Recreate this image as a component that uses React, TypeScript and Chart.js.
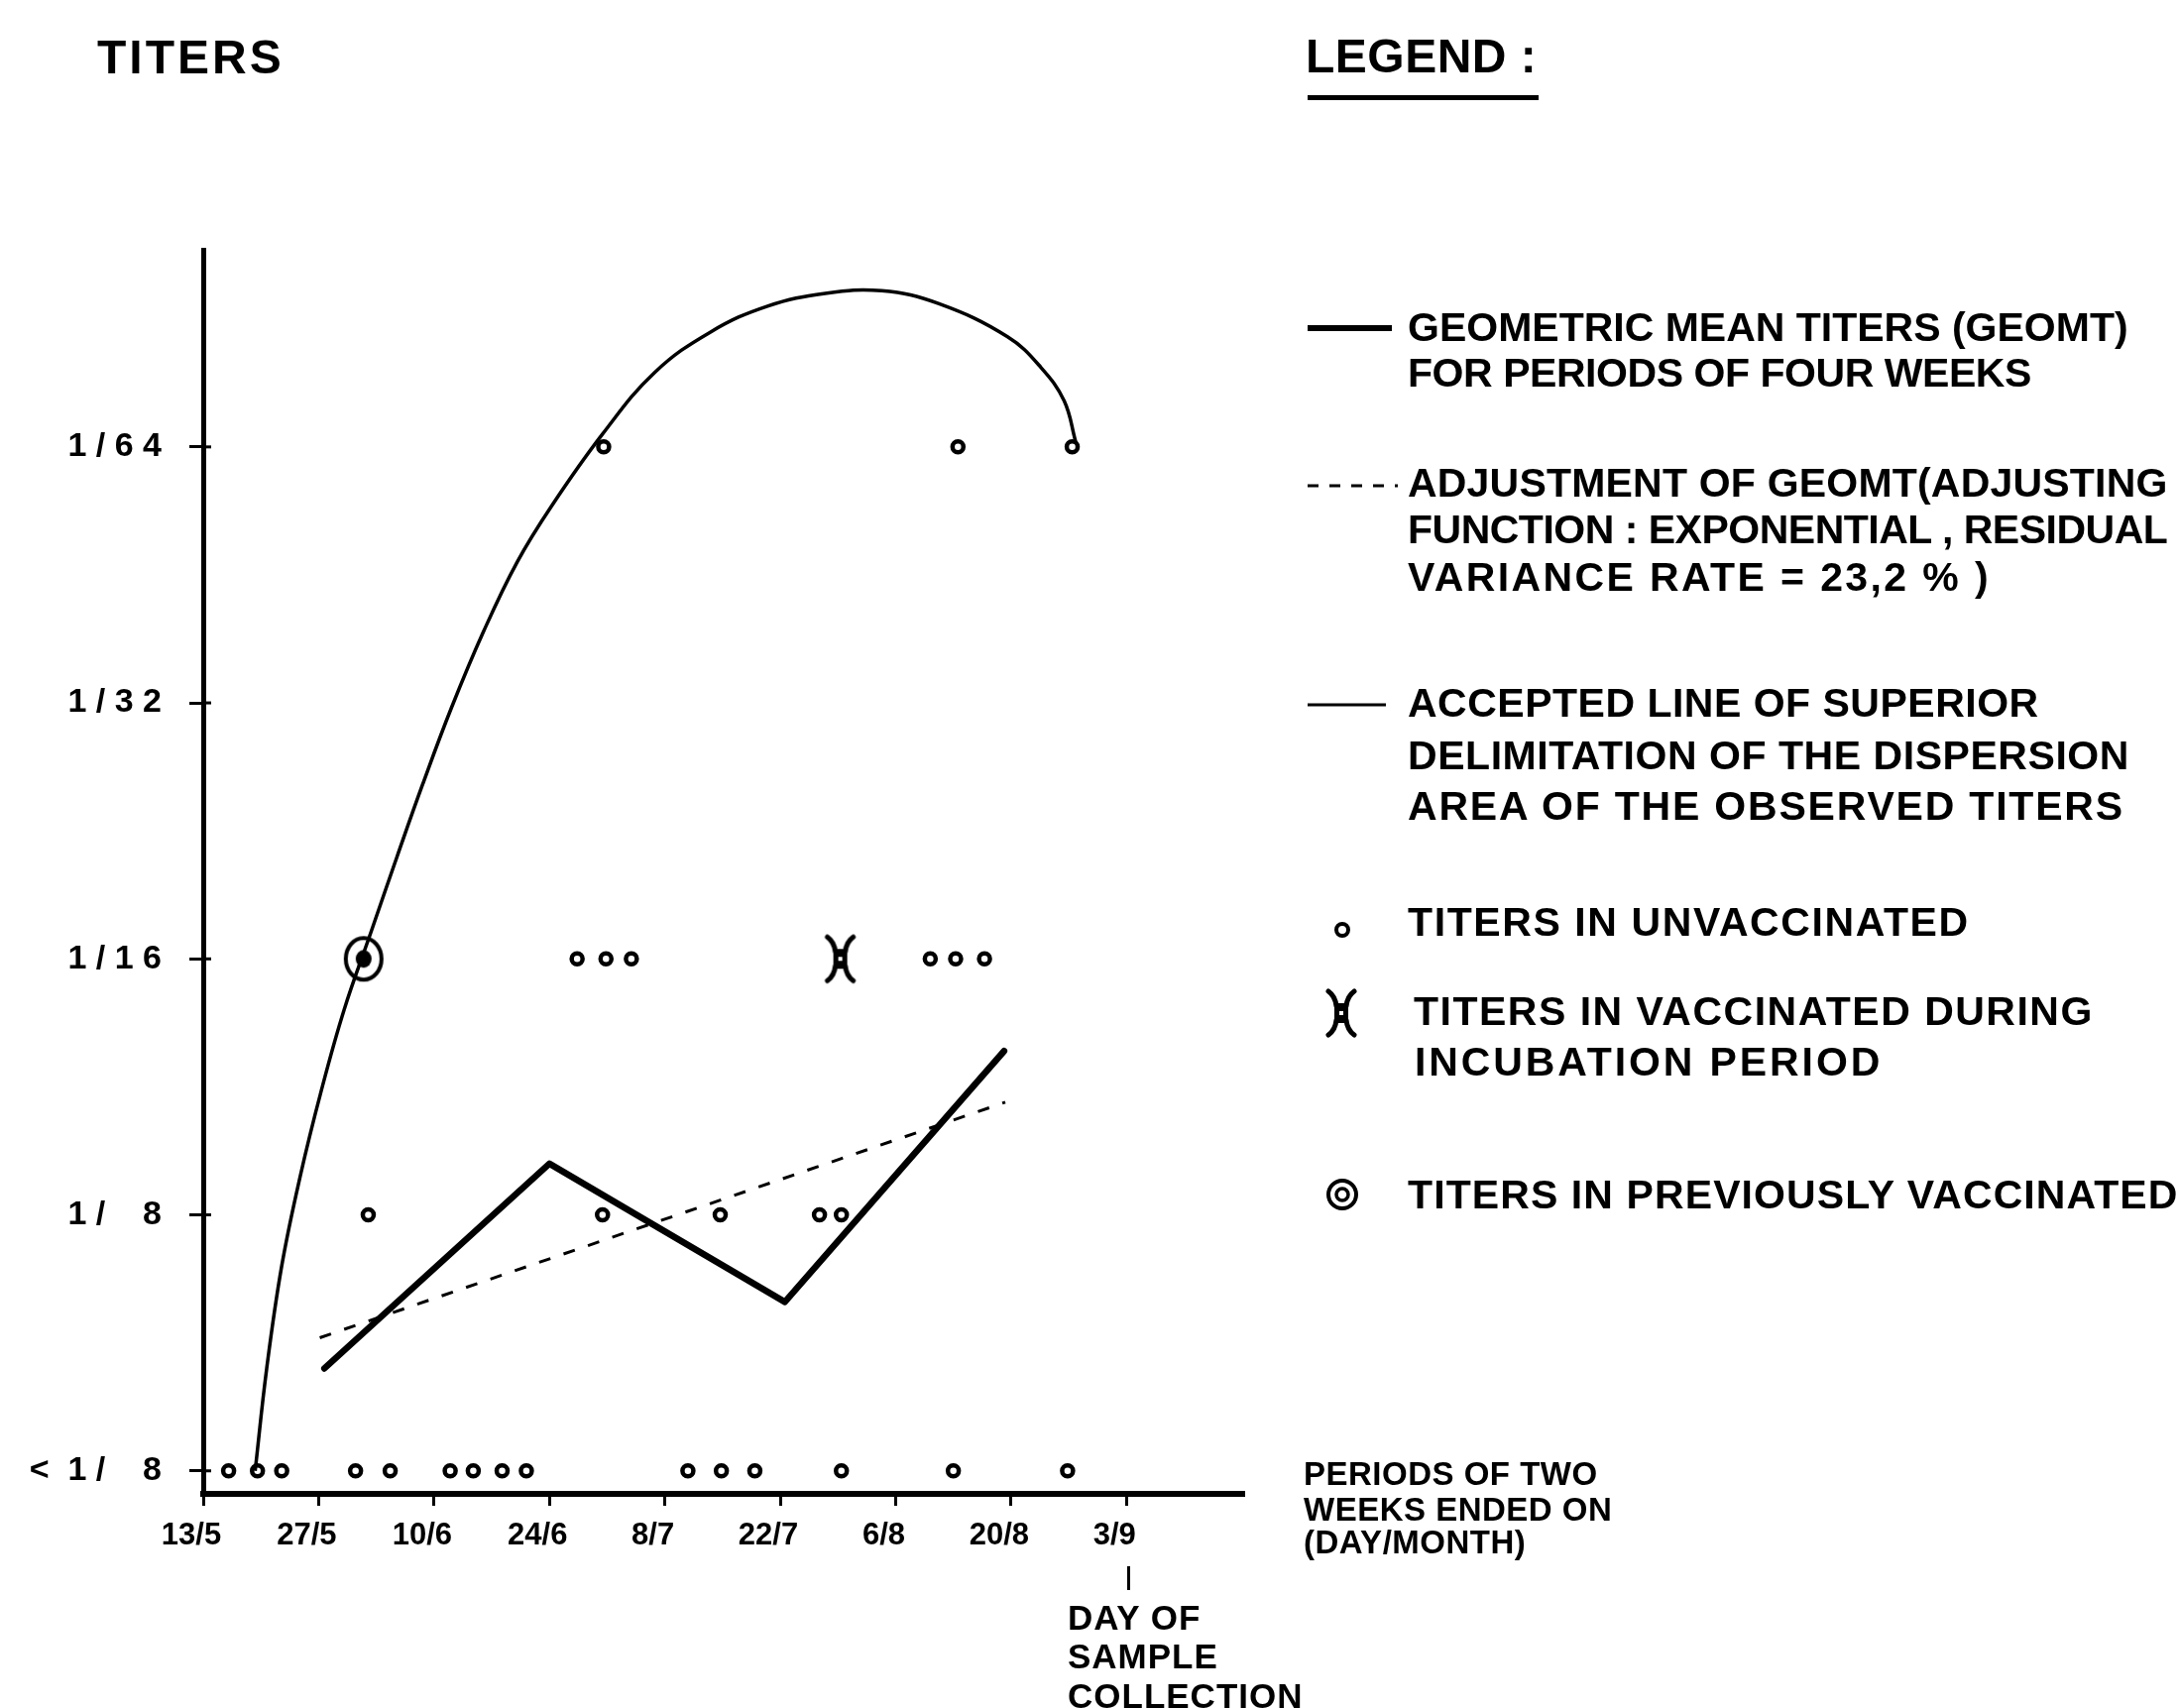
import React, { useEffect, useRef } from "react";
import { Chart, registerables } from "chart.js";

Chart.register(...registerables);

// ---------- DATA ----------
// x: two-week period index (0 = 13/5 ... 8 = 3/9); y: titer level (0 = <1/8, 1 = 1/8, 2 = 1/16, 3 = 1/32, 4 = 1/64)
const xTickValues = [0, 1, 2, 3, 4, 5, 6, 7, 8];
const xTickLabels = ["13/5", "27/5", "10/6", "24/6", "8/7", "22/7", "6/8", "20/8", "3/9"];
const yTickValues = [0, 1, 2, 3, 4];
const yTickLabels = ["<  1 /    8", "1 /    8", "1 / 1 6", "1 / 3 2", "1 / 6 4"];

// Geometric mean titers (four-week periods)
const geomtX = [1.05, 3.0, 5.04, 6.94];
const geomtLevel = [0.4, 1.2, 0.66, 1.64];

// Exponential adjustment of GEOMT
const adjustX = [1.01, 6.95];
const adjustLevel = [0.52, 1.44];

// Accepted line of superior delimitation
const limitX = [0.45, 0.55, 0.68, 0.84, 1.02, 1.22, 1.45, 1.68, 1.9, 2.15, 2.43, 2.72, 3.02, 3.46, 3.91, 4.4, 4.89, 5.39, 5.88, 6.37, 6.97, 7.26, 7.46, 7.56];
const limitLevel = [0.0, 0.4, 0.8, 1.15, 1.48, 1.8, 2.1, 2.4, 2.68, 2.98, 3.28, 3.55, 3.77, 4.05, 4.29, 4.45, 4.55, 4.6, 4.61, 4.56, 4.43, 4.31, 4.18, 4.02];

// Titers in unvaccinated, per titer row
const unvacBelow8X = [0.22, 0.47, 0.68, 1.32, 1.62, 2.14, 2.34, 2.59, 2.8, 4.2, 4.49, 4.78, 5.53, 6.5, 7.49];
const unvac8X = [1.43, 3.46, 4.48, 5.34, 5.53];
const unvac16X = [3.24, 3.49, 3.71, 6.3, 6.52, 6.77];
const unvac64X = [3.47, 6.54, 7.53];

// Titers in vaccinated during incubation period (1/16)
const vaccIncubX = [5.52];
// Titers in previously vaccinated (1/16)
const prevVaccX = [1.39];

const legendTexts = [
  ["GEOMETRIC MEAN TITERS (GEOMT)", "FOR PERIODS OF FOUR WEEKS"],
  ["ADJUSTMENT OF GEOMT(ADJUSTING", "FUNCTION : EXPONENTIAL , RESIDUAL", "VARIANCE RATE = 23,2 % )"],
  ["ACCEPTED LINE OF SUPERIOR", "DELIMITATION OF THE DISPERSION", "AREA OF THE OBSERVED TITERS"],
  ["TITERS IN UNVACCINATED"],
  ["TITERS IN VACCINATED DURING", "INCUBATION PERIOD"],
  ["TITERS IN PREVIOUSLY VACCINATED"],
];
const periodNote = ["PERIODS OF TWO", "WEEKS ENDED ON", "(DAY/MONTH)"];
const sampleNote = ["DAY OF", "SAMPLE", "COLLECTION"];

// ---------- LAYOUT / STYLE ----------
const W = 2198;
const H = 1723;
const FONT = '"Liberation Sans", Arial, Helvetica, sans-serif';
const legendCenters = [
  [330, 376],
  [487, 534, 582],
  [709, 762, 813],
  [930],
  [1020, 1071],
  [1205],
];
const legendSpacing = [
  [0, -0.45],
  [0.2, -0.5, 2.4],
  [0.5, 0.55, 1.8],
  [1.6],
  [1.5, 2.9],
  [1.1],
];
const legendLeft = [
  [1420, 1420],
  [1420, 1420, 1420],
  [1420, 1420, 1420],
  [1420],
  [1426, 1427],
  [1420],
];

function makeIncubationMarker(): HTMLCanvasElement {
  const c = document.createElement("canvas");
  c.width = 36;
  c.height = 54;
  const g = c.getContext("2d")!;
  g.fillStyle = "#000";
  g.strokeStyle = "#000";
  g.lineWidth = 5;
  g.lineCap = "round";
  g.fillRect(11, 17, 14, 20);
  const legs: number[][] = [
    [13, 20, 12, 10, 5, 5],
    [23, 20, 24, 10, 31, 5],
    [13, 34, 12, 44, 5, 49],
    [23, 34, 24, 44, 31, 49],
  ];
  legs.forEach(([a, b, cx, cy, d, e]) => {
    g.beginPath();
    g.moveTo(a, b);
    g.quadraticCurveTo(cx, cy, d, e);
    g.stroke();
  });
  g.fillStyle = "#fff";
  g.fillRect(16, 25, 4, 4);
  return c;
}

function makeBullseye(): HTMLCanvasElement {
  const c = document.createElement("canvas");
  c.width = 50;
  c.height = 56;
  const g = c.getContext("2d")!;
  g.strokeStyle = "#000";
  g.fillStyle = "#000";
  g.lineWidth = 4;
  g.beginPath();
  g.ellipse(25, 28, 18, 21, 0, 0, Math.PI * 2);
  g.stroke();
  g.beginPath();
  g.ellipse(25, 28, 8, 9, 0, 0, Math.PI * 2);
  g.fill();
  return c;
}

function makeLegendBullseye(): HTMLCanvasElement {
  const c = document.createElement("canvas");
  c.width = 40;
  c.height = 40;
  const g = c.getContext("2d")!;
  g.strokeStyle = "#000";
  g.lineWidth = 4;
  g.beginPath();
  g.arc(20, 20, 14, 0, Math.PI * 2);
  g.stroke();
  g.lineWidth = 3.5;
  g.beginPath();
  g.arc(20, 20, 6, 0, Math.PI * 2);
  g.stroke();
  return c;
}

const legendSymbolsPlugin = {
  id: "legendSymbols",
  afterDraw(chart: any) {
    const ctx: CanvasRenderingContext2D = chart.ctx;
    ctx.save();
    ctx.strokeStyle = "#000";
    ctx.fillStyle = "#000";
    // y-axis ticks cross the axis a little to the right
    const ys = chart.scales.y;
    const left = chart.chartArea.left;
    ctx.lineWidth = 3;
    yTickValues.forEach((v) => {
      const py = ys.getPixelForValue(v);
      ctx.beginPath();
      ctx.moveTo(left, py);
      ctx.lineTo(left + 8, py);
      ctx.stroke();
    });
    // thick GEOMT line
    ctx.lineWidth = 6;
    ctx.beginPath();
    ctx.moveTo(1319, 331);
    ctx.lineTo(1404, 331);
    ctx.stroke();
    // dashed adjustment
    ctx.lineWidth = 3;
    ctx.setLineDash([11, 11]);
    ctx.beginPath();
    ctx.moveTo(1319, 490);
    ctx.lineTo(1410, 490);
    ctx.stroke();
    ctx.setLineDash([]);
    // thin delimitation
    ctx.lineWidth = 3;
    ctx.beginPath();
    ctx.moveTo(1319, 711);
    ctx.lineTo(1398, 711);
    ctx.stroke();
    // unvaccinated circle
    ctx.lineWidth = 4;
    ctx.fillStyle = "#fff";
    ctx.beginPath();
    ctx.arc(1354, 938, 6, 0, Math.PI * 2);
    ctx.fill();
    ctx.stroke();
    // incubation marker
    const inc = makeIncubationMarker();
    ctx.drawImage(inc, 1353 - inc.width / 2, 1022 - inc.height / 2);
    // bullseye
    const be = makeLegendBullseye();
    ctx.drawImage(be, 1354 - be.width / 2, 1205 - be.height / 2);
    ctx.restore();
  },
};

function TextLine(props: { text: string; left: number; center: number; fs: number; ls?: number }) {
  const { text, left, center, fs, ls = 0 } = props;
  return (
    <div
      style={{
        position: "absolute",
        left,
        top: center - 0.49 * fs,
        fontFamily: FONT,
        fontWeight: 700,
        fontSize: fs,
        lineHeight: `${fs}px`,
        letterSpacing: ls,
        whiteSpace: "pre",
        color: "#000",
      }}
    >
      {text}
    </div>
  );
}

export default function App() {
  const canvasRef = useRef<HTMLCanvasElement | null>(null);

  useEffect(() => {
    if (!canvasRef.current) return;
    const pts = (xs: number[], level: number) => xs.map((x) => ({ x, y: level }));
    const zip = (xs: number[], ys: number[]) => xs.map((x, i) => ({ x, y: ys[i] }));
    const incMarker = makeIncubationMarker();
    const bullseye = makeBullseye();

    const tickFont = (size: number) => ({ family: FONT, weight: "bold" as const, size });

    const chart = new Chart(canvasRef.current, {
      type: "scatter",
      data: {
        datasets: [
          {
            label: "GEOMETRIC MEAN TITERS (GEOMT)",
            type: "line",
            data: zip(geomtX, geomtLevel),
            borderColor: "#000",
            borderWidth: 6.5,
            pointRadius: 0,
            tension: 0,
            borderJoinStyle: "round",
            borderCapStyle: "round",
          },
          {
            label: "ADJUSTMENT OF GEOMT",
            type: "line",
            data: zip(adjustX, adjustLevel),
            borderColor: "#000",
            borderWidth: 3,
            borderDash: [12, 14],
            pointRadius: 0,
            tension: 0,
          },
          {
            label: "ACCEPTED LINE OF SUPERIOR DELIMITATION",
            type: "line",
            data: zip(limitX, limitLevel),
            borderColor: "#000",
            borderWidth: 3.5,
            pointRadius: 0,
            tension: 0.4,
          },
          {
            label: "TITERS IN UNVACCINATED",
            data: [
              ...pts(unvacBelow8X, 0),
              ...pts(unvac8X, 1),
              ...pts(unvac16X, 2),
              ...pts(unvac64X, 4),
            ],
            pointStyle: "circle",
            pointRadius: 5.5,
            pointBorderWidth: 4.5,
            pointBorderColor: "#000",
            pointBackgroundColor: "#fff",
          },
          {
            label: "TITERS IN VACCINATED DURING INCUBATION PERIOD",
            data: pts(vaccIncubX, 2),
            pointStyle: incMarker as any,
            pointRadius: 20,
          },
          {
            label: "TITERS IN PREVIOUSLY VACCINATED",
            data: pts(prevVaccX, 2),
            pointStyle: bullseye as any,
            pointRadius: 22,
          },
        ],
      },
      options: {
        responsive: false,
        animation: false,
        events: [],
        devicePixelRatio: 1,
        layout: { padding: { left: 0, right: 943, top: 252, bottom: 0 } },
        plugins: { legend: { display: false }, tooltip: { enabled: false }, title: { display: false } },
        scales: {
          x: {
            type: "linear",
            position: "bottom",
            min: 0,
            max: 9.02,
            afterBuildTicks: (scale: any) => {
              scale.ticks = xTickValues.map((v) => ({ value: v }));
            },
            afterFit: (scale: any) => {
              scale.height = 216;
            },
            grid: {
              display: true,
              drawOnChartArea: false,
              drawTicks: true,
              tickLength: 12,
              tickWidth: 3,
              tickColor: "#000",
              color: "#000",
            },
            border: { display: true, color: "#000", width: 6 },
            ticks: {
              autoSkip: false,
              maxRotation: 0,
              minRotation: 0,
              padding: 12,
              labelOffset: -12,
              color: "#000",
              font: tickFont(31),
              callback: (v: any) => {
                const i = xTickValues.indexOf(Number(v));
                return i >= 0 ? xTickLabels[i] : "";
              },
            },
          },
          y: {
            type: "linear",
            min: -0.09,
            max: 4.77,
            afterBuildTicks: (scale: any) => {
              scale.ticks = yTickValues.map((v) => ({ value: v }));
            },
            afterFit: (scale: any) => {
              scale.width = 205;
            },
            grid: {
              display: true,
              drawOnChartArea: false,
              drawTicks: true,
              tickLength: 14,
              tickWidth: 3,
              tickColor: "#000",
              color: "#000",
            },
            border: { display: true, color: "#000", width: 5 },
            ticks: {
              autoSkip: false,
              padding: 28,
              color: "#000",
              font: tickFont(34),
              callback: (v: any) => {
                const i = yTickValues.indexOf(Number(v));
                return i >= 0 ? yTickLabels[i] : "";
              },
            },
          },
        },
      },
      plugins: [legendSymbolsPlugin],
    } as any);

    return () => {
      chart.destroy();
    };
  }, []);

  return (
    <div
      style={{
        position: "absolute",
        left: 0,
        top: 0,
        width: W,
        height: H,
        overflow: "hidden",
        background: "#fff",
      }}
    >
      <canvas ref={canvasRef} width={W} height={H} style={{ position: "absolute", left: 0, top: 0 }} />
      <TextLine text="TITERS" left={98} center={58} fs={48} ls={3} />
      <TextLine text="LEGEND :" left={1317} center={57} fs={48} ls={0.5} />
      <div style={{ position: "absolute", left: 1319, top: 96, width: 233, height: 5, background: "#000" }} />
      {legendTexts.map((lines, gi) =>
        lines.map((t, li) => (
          <TextLine
            key={`${gi}-${li}`}
            text={t}
            left={legendLeft[gi][li]}
            center={legendCenters[gi][li]}
            fs={41}
            ls={legendSpacing[gi][li]}
          />
        ))
      )}
      {periodNote.map((t, i) => (
        <TextLine key={`p${i}`} text={t} left={1315} center={[1486, 1522, 1555][i]} fs={33} ls={0.5} />
      ))}
      <div style={{ position: "absolute", left: 1137, top: 1580, width: 3, height: 24, background: "#000" }} />
      {sampleNote.map((t, i) => (
        <TextLine key={`s${i}`} text={t} left={1077} center={[1631, 1670, 1710][i]} fs={35} ls={1} />
      ))}
    </div>
  );
}
